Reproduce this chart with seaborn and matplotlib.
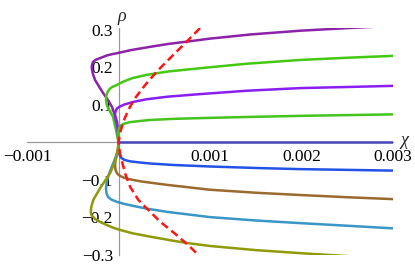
import numpy as np
import pandas as pd
import matplotlib
matplotlib.use("Agg")
import matplotlib.pyplot as plt
from matplotlib.ticker import MultipleLocator, FixedLocator, FuncFormatter
import seaborn as sns

# --- curves (chi, rho) ---
purple_outer_x = [0, -0.000016, -0.000071, -0.00012, -0.000169, -0.000215, -0.000257, -0.00028,
                  -0.000293, -0.00029, -0.000279, -0.000245, -0.000202, -0.00016, -0.000115,
                  -0.00006, 0.0, 0.00015, 0.000344, 0.00055, 0.000749, 0.001, 0.00144,
                  0.00198, 0.0025, 0.003]
purple_outer_y = [0, 0.055, 0.095, 0.115, 0.132, 0.150, 0.167, 0.183,
                  0.199, 0.207, 0.215, 0.221, 0.225, 0.229, 0.233,
                  0.236, 0.239, 0.247, 0.255, 0.263, 0.269, 0.277, 0.288,
                  0.298, 0.305, 0.311]

green_outer_x = [0, -0.000027, -0.00006, -0.00009, -0.000115, -0.00013, -0.000137, -0.000134,
                 -0.000122, -0.0001, -0.00007, -0.00003, 0.0, 0.00005, 0.0001, 0.000158,
                 0.0003, 0.00053, 0.00089, 0.0014, 0.00198, 0.0025, 0.003]
green_outer_y = [0, 0.033, 0.068, 0.082, 0.092, 0.102, 0.113, 0.124,
                 0.134, 0.142, 0.148, 0.152, 0.156, 0.162, 0.167, 0.172,
                 0.180, 0.189, 0.198, 0.210, 0.220, 0.226, 0.231]

violet_x = [0, -0.000008, -0.000016, -0.000032, -0.000038, -0.000036, -0.000027, -0.00001,
            0.000016, 0.00006, 0.000158, 0.0003, 0.00053, 0.00089, 0.0014, 0.00198, 0.0025, 0.003]
violet_y = [0, 0.030, 0.047, 0.062, 0.071, 0.080, 0.087, 0.092,
            0.096, 0.101, 0.108, 0.115, 0.122, 0.129, 0.138, 0.145, 0.148, 0.151]

green_inner_x = [0, -0.000003, 0.0, 0.000008, 0.00003, 0.00006, 0.00012, 0.00022, 0.000344,
                 0.0006, 0.00089, 0.0014, 0.00198, 0.003]
green_inner_y = [0, 0.025, 0.033, 0.040, 0.046, 0.050, 0.054, 0.057, 0.060,
                 0.063, 0.065, 0.068, 0.071, 0.075]

indigo_x = [0, 0.001, 0.002, 0.003]
indigo_y = [0, 0, 0, 0]

blue_x = [0, 0.0, 0.000005, 0.000015, 0.00003, 0.00006, 0.00012, 0.00022, 0.000344,
          0.0006, 0.001, 0.0015, 0.00198, 0.003]
blue_y = [0, -0.015, -0.028, -0.035, -0.041, -0.046, -0.050, -0.053, -0.056,
          -0.060, -0.064, -0.068, -0.071, -0.075]

brown_x = [0, -0.000005, -0.000013, -0.000025, -0.000033, -0.000038, -0.000035, -0.000027,
           -0.00001, 0.000016, 0.00006, 0.00012, 0.00025, 0.00053, 0.001, 0.0015, 0.00198,
           0.0025, 0.003]
brown_y = [0, -0.015, -0.029, -0.040, -0.047, -0.060, -0.070, -0.077,
           -0.084, -0.089, -0.094, -0.098, -0.104, -0.113, -0.126, -0.134, -0.140,
           -0.146, -0.151]

teal_x = [0, -0.000005, -0.000016, -0.000044, -0.000074, -0.000109, -0.000129, -0.000137,
          -0.000132, -0.000115, -0.00008, -0.00002, 0.00005, 0.000158, 0.0003, 0.00053,
          0.001, 0.0015, 0.00198, 0.0025, 0.003]
teal_y = [0, -0.015, -0.028, -0.047, -0.065, -0.087, -0.105, -0.122,
          -0.135, -0.145, -0.152, -0.158, -0.163, -0.169, -0.176, -0.185,
          -0.199, -0.208, -0.215, -0.222, -0.229]

olive_x = [0, -0.000005, -0.000016, -0.000038, -0.000093, -0.00015, -0.000202, -0.00024,
           -0.000275, -0.000296, -0.000304, -0.000295, -0.000257, -0.0002, -0.000129,
           -0.00006, 0.0, 0.00015, 0.000344, 0.00055, 0.000745, 0.001, 0.0015, 0.00198,
           0.0025, 0.003]
olive_y = [0, -0.015, -0.028, -0.051, -0.082, -0.103, -0.122, -0.138,
           -0.153, -0.170, -0.185, -0.194, -0.204, -0.212, -0.220,
           -0.227, -0.232, -0.242, -0.251, -0.260, -0.268, -0.276, -0.287, -0.295,
           -0.303, -0.310]

red_x = [0.00089, 0.000745, 0.000563, 0.000417, 0.00029, 0.00018, 0.000107, 0.000052,
         0.000016, 0.0, 0.000016, 0.000071, 0.000126, 0.000216, 0.000326, 0.000454,
         0.000636, 0.000781, 0.000891]
red_y = [0.305, 0.269, 0.225, 0.189, 0.153, 0.118, 0.087, 0.055,
         0.025, 0.0, -0.029, -0.082, -0.118, -0.153, -0.180, -0.211,
         -0.247, -0.278, -0.305]

curves = [
    (purple_outer_x, purple_outer_y, "#8b22a8"),
    (green_outer_x, green_outer_y, "#44c812"),
    (violet_x, violet_y, "#8a1ef2"),
    (green_inner_x, green_inner_y, "#44c41c"),
    (indigo_x, indigo_y, "#4646b8"),
    (blue_x, blue_y, "#2252e6"),
    (brown_x, brown_y, "#9a6a2e"),
    (teal_x, teal_y, "#3a96c6"),
    (olive_x, olive_y, "#8f9a0a"),
]

sns.set_style("white")
serif = ["Liberation Serif", "DejaVu Serif"]
plt.rcParams["font.family"] = serif

fig = plt.figure(figsize=(4.15, 2.66), dpi=100)
ax = fig.add_axes([0.0651, 0.0414, 0.882, 0.8515])

for xs, ys, col in curves:
    sns.lineplot(x=xs, y=ys, sort=False, estimator=None, color=col, lw=1.8, ax=ax)

sns.lineplot(x=red_x, y=red_y, sort=False, estimator=None, color="#ff1414", lw=1.8,
             dashes=False, ax=ax)
ax.lines[-1].set_dashes([3.2, 1.8])

ax.set_xlim(-0.001, 0.003)
ax.set_ylim(-0.3, 0.304)

# axes through the origin
ax.spines["left"].set_position(("data", 0))
ax.spines["bottom"].set_position(("data", 0))
ax.spines["right"].set_visible(False)
ax.spines["top"].set_visible(False)
for s in ("left", "bottom"):
    ax.spines[s].set_color("#999999")
    ax.spines[s].set_linewidth(0.9)
    ax.spines[s].set_zorder(0)

ax.xaxis.set_major_locator(FixedLocator([-0.001, 0.001, 0.002, 0.003]))
ax.xaxis.set_minor_locator(MultipleLocator(0.0002))
ax.yaxis.set_major_locator(FixedLocator([-0.3, -0.2, -0.1, 0.1, 0.2, 0.3]))
ax.yaxis.set_minor_locator(MultipleLocator(0.02))
ax.xaxis.set_major_formatter(FuncFormatter(lambda v, p: f"{v:.3f}".replace("-", "\u2212")))
ax.yaxis.set_major_formatter(FuncFormatter(lambda v, p: f"{v:.1f}".replace("-", "\u2212")))

ax.tick_params(which="both", direction="in", color="#999999", width=0.8,
               labelsize=12.5, labelcolor="black")
ax.tick_params(which="major", length=4)
ax.tick_params(which="minor", length=2.2)
ax.tick_params(axis="x", pad=5)
ax.tick_params(axis="y", pad=4)
ax.grid(False)

ax.text(0.00003, 0.335, "\u03c1", fontsize=13, style="italic", ha="center", va="center",
        family=serif, clip_on=False)
ax.text(0.00308, 0.004, "\u03c7", fontsize=13, style="italic", ha="left", va="center",
        family=serif, clip_on=False)

fig.savefig("out.png", dpi=100)
